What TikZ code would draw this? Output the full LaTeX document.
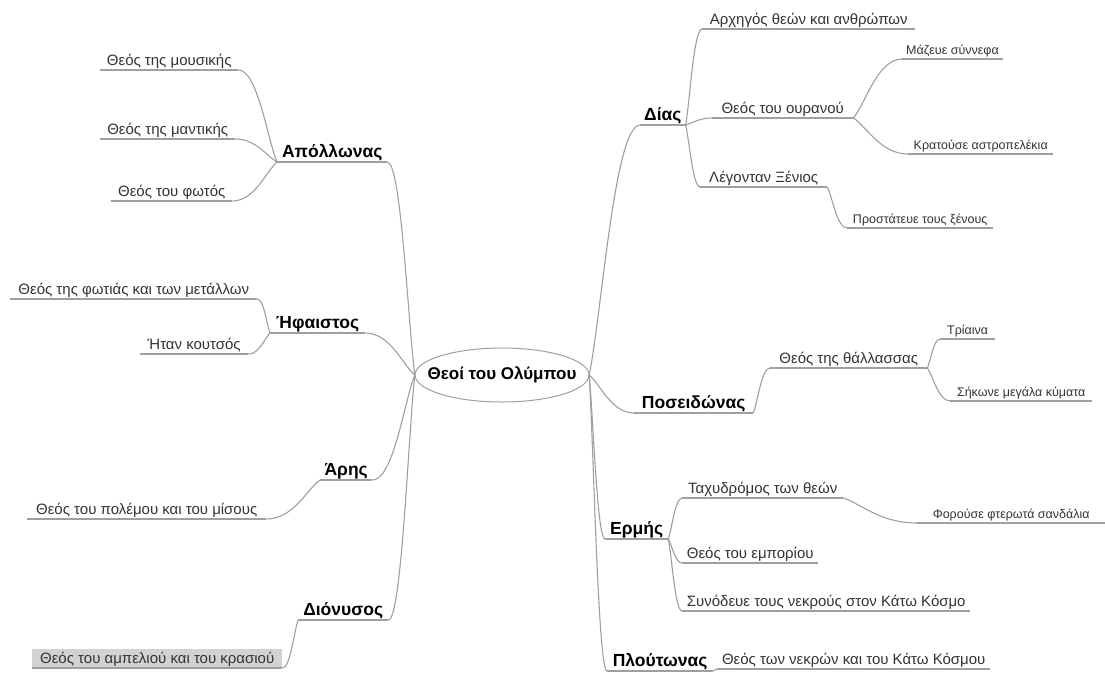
\documentclass[tikz,border=0pt]{standalone}
\usepackage{fontspec}
\setmainfont{Liberation Sans}
\usetikzlibrary{calc,shapes.geometric}

\tikzset{
  god/.style={anchor=south west, inner xsep=4pt, inner ysep=4pt, text depth=0pt,
    font=\bfseries\fontsize{17.5}{19}\selectfont},
  fact/.style={anchor=south west, inner xsep=4pt, inner ysep=4pt, text depth=0pt,
    text=black!80, font=\fontsize{15}{17}\selectfont},
  detail/.style={fact, font=\fontsize{12.5}{14}\selectfont},
  link/.style={draw=gray!75, line width=1.1pt},
}

\begin{document}
\begin{tikzpicture}[x=1pt,y=-1pt]
      \useasboundingbox (0,0) rectangle (1105,673);
      \node (root) at (502,375) [minimum width=174pt, minimum height=54pt, inner sep=0pt,
        font=\bfseries\fontsize{17}{19}\selectfont] {Θεοί του Ολύμπου};
      \draw[draw=gray!75, line width=1pt] (root.center) ellipse [x radius=87pt, y radius=27pt];

      % left side
      \node (apollo)   at (277,162) [god, minimum width=110pt] {Απόλλωνας};
      \node (mousiki)  at (100,70)  [fact, minimum width=138pt] {Θεός της μουσικής};
      \node (mantiki)  at (100,139) [fact, minimum width=135pt] {Θεός της μαντικής};
      \node (fotos)    at (111,201) [fact, minimum width=121pt] {Θεός του φωτός};
      \node (hfaistos) at (270,333) [god, minimum width=95pt] {Ήφαιστος};
      \node (fotia)    at (10,299)  [fact, minimum width=247pt] {Θεός της φωτιάς και των μετάλλων};
      \node (koutsos)  at (140,354) [fact, minimum width=108pt] {Ήταν κουτσός};
      \node (aris)     at (320,480) [god, minimum width=52pt] {Άρης};
      \node (polemos)  at (27,519)  [fact, minimum width=239pt] {Θεός του πολέμου και του μίσους};
      \node (dionysos) at (298,620) [god, minimum width=90pt] {Διόνυσος};
      \node (krasi)    at (32,668)  [fact, fill=gray!35, minimum width=250pt] {Θεός του αμπελιού και του κρασιού};

      % right side
      \node (dias)      at (640,125) [god, minimum width=45pt] {Δίας};
      \node (archigos)  at (702,29)  [fact, minimum width=213pt] {Αρχηγός θεών και ανθρώπων};
      \node (ouranos)   at (712,118) [fact, minimum width=141pt] {Θεός του ουρανού};
      \node (nefela)    at (902,59)  [detail, minimum width=98pt] {Μάζευε σύννεφα};
      \node (keravnos)  at (908,154) [detail, minimum width=145pt] {Κρατούσε αστροπελέκια};
      \node (xenios)    at (700,187) [fact, minimum width=127pt] {Λέγονταν Ξένιος};
      \node (prostatis) at (847,228) [detail, minimum width=146pt] {Προστάτευε τους ξένους};
      \node (poseidon)  at (634,413) [god, minimum width=119pt] {Ποσειδώνας};
      \node (thalassa)  at (770,368) [fact, minimum width=157pt] {Θεός της θάλλασσας};
      \node (triaina)   at (940,339) [detail, minimum width=55pt] {Τρίαινα};
      \node (kymata)    at (950,401) [detail, minimum width=142pt] {Σήκωνε μεγάλα κύματα};
      \node (ermis)     at (605,539) [god, minimum width=63pt] {Ερμής};
      \node (tachy)     at (682,498) [fact, minimum width=161pt] {Ταχυδρόμος των θεών};
      \node (sandalia)  at (917,523) [detail, minimum width=188pt] {Φορούσε φτερωτά σανδάλια};
      \node (emporio)   at (682,563) [fact, minimum width=136pt] {Θεός του εμπορίου};
      \node (nekroi)    at (682,611) [fact, minimum width=288pt] {Συνόδευε τους νεκρούς στον Κάτω Κόσμο};
      \node (plouton)   at (607,671) [god, minimum width=106pt] {Πλούτωνας};
      \node (kosmos)    at (717,669) [fact, minimum width=273pt] {Θεός των νεκρών και του Κάτω Κόσμου};

      % underlines
      \foreach \n in {apollo,mousiki,mantiki,fotos,hfaistos,fotia,koutsos,aris,polemos,dionysos,krasi,
        dias,archigos,ouranos,nefela,keravnos,xenios,prostatis,poseidon,thalassa,triaina,kymata,
        ermis,tachy,sandalia,emporio,nekroi,plouton,kosmos}
        \draw[link] (\n.south west) -- (\n.south east);

      % branches
      \foreach \a/\b in {root.west/apollo.south east, root.west/hfaistos.south east,
        root.west/aris.south east, root.west/dionysos.south east,
        apollo.south west/mousiki.south east, apollo.south west/mantiki.south east,
        apollo.south west/fotos.south east, hfaistos.south west/fotia.south east,
        hfaistos.south west/koutsos.south east, aris.south west/polemos.south east,
        dionysos.south west/krasi.south east,
        root.east/dias.south west, root.east/poseidon.south west,
        root.east/ermis.south west, root.east/plouton.south west,
        dias.south east/archigos.south west, dias.south east/ouranos.south west,
        dias.south east/xenios.south west, ouranos.south east/nefela.south west,
        ouranos.south east/keravnos.south west, xenios.south east/prostatis.south west,
        poseidon.south east/thalassa.south west, thalassa.south east/triaina.south west,
        thalassa.south east/kymata.south west, ermis.south east/tachy.south west,
        ermis.south east/emporio.south west, ermis.south east/nekroi.south west,
        tachy.south east/sandalia.south west, plouton.south east/kosmos.south west}
        \draw[link] (\a) .. controls ($(\a)!0.25!(\b)$) and ($(\b)!0.5!(\b -| \a)$) .. (\b);
\end{tikzpicture}
\end{document}
